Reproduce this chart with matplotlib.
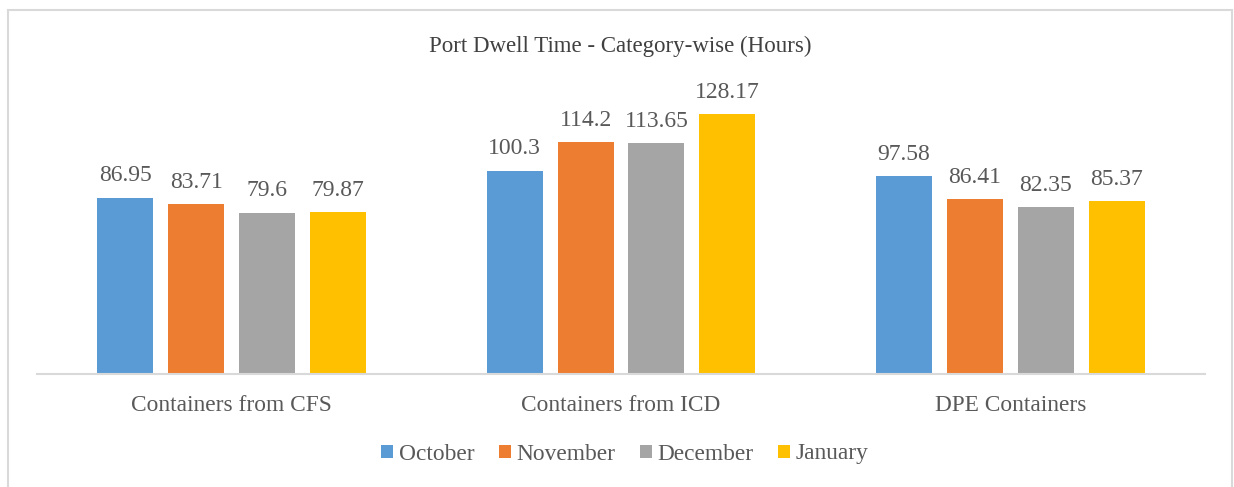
import matplotlib
matplotlib.use("Agg")
import matplotlib.pyplot as plt
import numpy as np
from matplotlib.patches import Rectangle

categories = ["Containers from CFS", "Containers from ICD", "DPE Containers"]
series_names = ["October", "November", "December", "January"]
october = [86.95, 100.3, 97.58]
november = [83.71, 114.2, 86.41]
december = [79.6, 113.65, 82.35]
january = [79.87, 128.17, 85.37]
series_values = [october, november, december, january]
label_text = [["86.95", "100.3", "97.58"], ["83.71", "114.2", "86.41"],
              ["79.6", "113.65", "82.35"], ["79.87", "128.17", "85.37"]]
colors = ["#5B9BD5", "#ED7D31", "#A5A5A5", "#FFC000"]

plt.rcParams['font.family'] = ['Liberation Serif', 'DejaVu Serif']
txt = "#595959"

fig = plt.figure(figsize=(12.34, 4.87), dpi=100)
# outer chart frame
fig.patches.append(Rectangle((7.5/1234, -0.05), (1232-7.5)/1234, 1.05 - 10/487,
                             transform=fig.transFigure, fill=False,
                             edgecolor="#D9D9D9", linewidth=1.5))

ax = fig.add_axes([37/1234, 1-374/487, (1205-37)/1234, (374-90)/487])
x = np.arange(len(categories))
w = 0.144
step = 0.182
offsets = (np.arange(4) - 1.5) * step
for i, (name, vals) in enumerate(zip(series_names, series_values)):
    bars = ax.bar(x + offsets[i], vals, w, color=colors[i], label=name)
    for b, t in zip(bars, label_text[i]):
        ax.text(b.get_x() + b.get_width()/2, b.get_height() + 5.5, t,
                ha="center", va="bottom", fontsize=17, color=txt)

ax.set_xlim(-0.5, 2.5)
ax.set_ylim(0, 140)
ax.set_yticks([])
ax.set_xticks(x)
ax.set_xticklabels(categories, fontsize=16.8, color=txt)
ax.tick_params(axis="x", length=0, pad=15)
for s in ["top", "right", "left"]:
    ax.spines[s].set_visible(False)
ax.spines["bottom"].set_color("#D9D9D9")
ax.spines["bottom"].set_linewidth(1.5)

fig.text(620/1234, 1-46/487, "Port Dwell Time - Category-wise (Hours)",
         ha="center", va="center", fontsize=16.5, color="#404040")

leg = fig.legend(loc="center", bbox_to_anchor=(625/1234, 1-454/487), ncol=4,
                 frameon=False, fontsize=16.8, handlelength=0.5, handleheight=0.5,
                 handletextpad=0.25, columnspacing=1.05, labelcolor=txt)

fig.savefig("out.png", dpi=100)
